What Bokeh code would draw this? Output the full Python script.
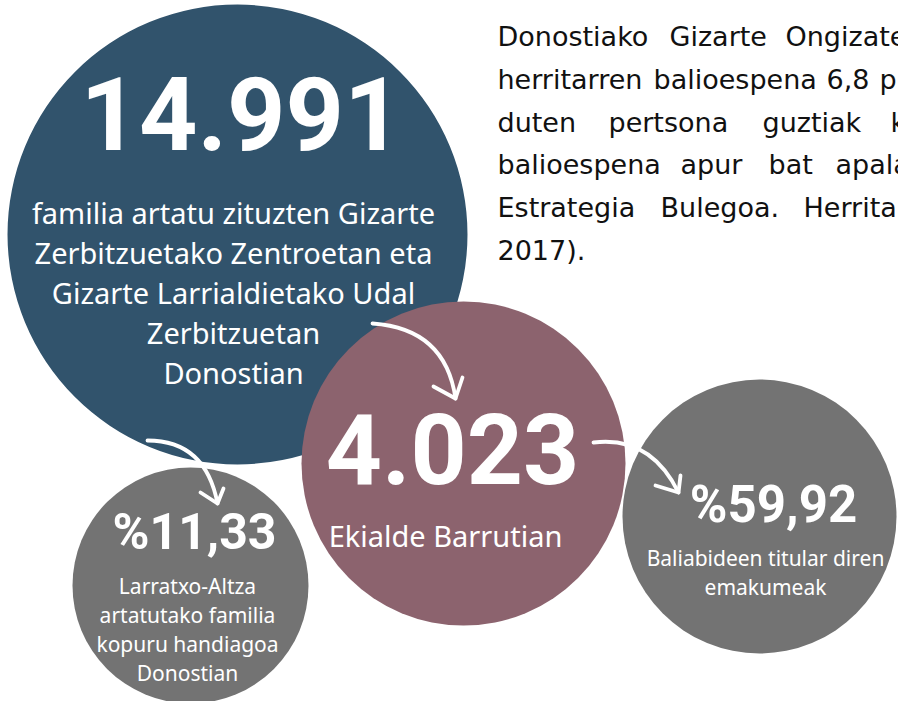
from bokeh.plotting import figure
from bokeh.models import Range1d
from bokeh.core.properties import value
from bokeh.embed import file_html
from bokeh.resources import INLINE

# ---- data ----
big_numbers = ["14.991", "4.023", "%11,33", "%59,92"]
blue_lines = ["familia artatu zituzten Gizarte", "Zerbitzuetako Zentroetan eta",
              "Gizarte Larrialdietako Udal", "Zerbitzuetan", "Donostian"]
pink_lines = ["Ekialde Barrutian"]
left_grey_lines = ["Larratxo-Altza", "artatutako familia", "kopuru handiagoa", "Donostian"]
right_grey_lines = ["Baliabideen titular diren", "emakumeak"]
para_lines = [
    ["Donostiako", "Gizarte", "Ongizateko"],
    ["herritarren", "balioespena", "6,8", "puntukoa"],
    ["duten", "pertsona", "guztiak", "kontuan"],
    ["balioespena", "apur", "bat", "apalagoa"],
    ["Estrategia", "Bulegoa.", "Herritarren"],
    ["2017)."],
]

# ---- layout (pixel coordinates of the page) ----
para_word_x = [
    [497, 669, 785],
    [497, 653, 826, 879],
    [497, 608, 762, 890],
    [497, 680, 768, 835],
    [497, 660, 803],
    [497],
]
circ_x = [237, 463, 190, 759]
circ_y = [234, 463, 585, 516]
circ_r = [230, 162, 118, 137]
circ_c = ["#31536c", "#8c636e", "#737373", "#737373"]

W, H = 898, 701
p = figure(width=W, height=H, x_range=Range1d(0, W), y_range=Range1d(H, 0),
           output_backend="svg", toolbar_location=None, min_border=0)
p.axis.visible = False
p.grid.visible = False
p.outline_line_color = None
p.background_fill_color = "white"
p.border_fill_color = "white"

p.circle(x=circ_x, y=circ_y, radius=circ_r, fill_color=circ_c, line_color=None)

# arrows
arrow_lw = 3.8
p.quadratic(x0=[372, 147, 593], y0=[323, 440, 442],
            x1=[455, 217, 678], y1=[398, 503, 492],
            cx=[445, 205, 650], cy=[328, 440, 435],
            line_color="white", line_width=arrow_lw, line_cap="round")
p.multi_line(xs=[[433, 455, 462], [200, 217, 223], [655, 678, 680]],
             ys=[[386, 398, 377], [492, 503, 488], [485, 492, 475]],
             line_color="white", line_width=arrow_lw, line_cap="round", line_join="round")

sub_font = value("Noto Sans")

def block(lines, cx, y0, dy, size):
    ys = [y0 + i * dy for i in range(len(lines))]
    p.text(x=[cx] * len(lines), y=ys, text=lines, text_font=sub_font,
           text_font_size=size, text_color="white", text_align="center",
           text_baseline="middle")

block(blue_lines, 233, 212, 40, "29px")
block(pink_lines, 445, 535, 30, "29px")
block(left_grey_lines, 187, 585, 29, "21px")
block(right_grey_lines, 765, 557, 29, "21px")

# paragraph
px, py, pt = [], [], []
for i, (words, xs) in enumerate(zip(para_lines, para_word_x)):
    for w, x in zip(words, xs):
        px.append(x)
        py.append(36 + 42.8 * i)
        pt.append(w)
p.text(x=px, y=py, text=pt, text_font=value("DejaVu Sans"), text_font_size="27px",
       text_color="#111111", text_align="left", text_baseline="alphabetic")

# big numbers
num_x = [241, 452, 194, 773]
num_y = [113, 448, 531, 504]
num_size = ["102px", "98px", "50px", "51px"]
for t, x, y, s in zip(big_numbers, num_x, num_y, num_size):
    p.text(x=[x], y=[y], text=[t], text_font=value("Roboto"), text_font_style="bold",
           text_font_size=s, text_color="white", text_align="center",
           text_baseline="middle")

open("out.html", "w").write(file_html(p, INLINE))
